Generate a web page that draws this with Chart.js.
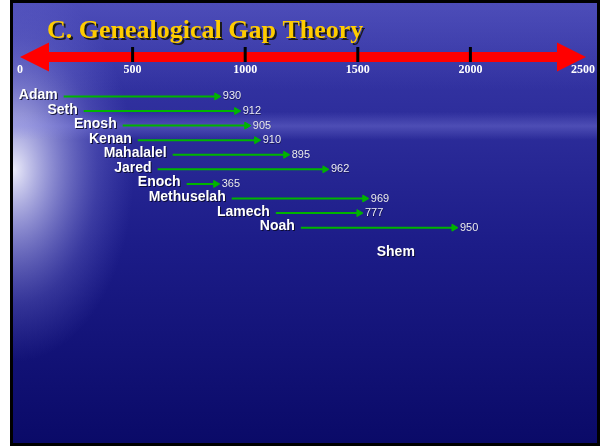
<!DOCTYPE html>
<html>
<head>
<meta charset="utf-8">
<script src="https://cdn.jsdelivr.net/npm/chart.js@4/dist/chart.umd.min.js"></script>
<style>
  html, body { margin: 0; padding: 0; background: #fff; }
  canvas { display: block; }
</style>
</head>
<body>
<canvas id="chart" width="602" height="447"></canvas>
<script>
const names = ['Adam', 'Seth', 'Enosh', 'Kenan', 'Mahalalel', 'Jared', 'Enoch', 'Methuselah', 'Lamech', 'Noah', 'Shem'];
const arrowStart = [194, 283, 456, 523, 678, 611, 740, 940, 1136, 1247, 1780];
const arrowEnd = [874, 962, 1007, 1051, 1180, 1354, 869, 1531, 1505, 1927, null];
const lifespans = [930, 912, 905, 910, 895, 962, 365, 969, 777, 950, null];
const rows = [0, 1, 2, 3, 4, 5, 6, 7, 8, 9, 10.75];
const axisTicks = [0, 500, 1000, 1500, 2000, 2500];
const titleText = 'C. Genealogical Gap Theory';

const green = '#00b400';

const datasets = names.map((name, i) => ({
    label: name,
    data: arrowEnd[i] == null ? [] : [
        { x: arrowStart[i], y: rows[i] },
        { x: arrowEnd[i], y: rows[i] }
    ],
    borderColor: green,
    backgroundColor: green,
    borderWidth: 2,
    pointRadius: [0, 4],
    pointStyle: 'triangle',
    pointRotation: 90,
    pointBorderWidth: 1,
    pointBackgroundColor: green,
    pointBorderColor: green
}));

const slideBackground = {
    id: 'slideBackground',
    beforeDraw(chart) {
        const ctx = chart.ctx;
        const W = chart.width, H = chart.height;
        ctx.save();
        ctx.fillStyle = '#ffffff';
        ctx.fillRect(0, 0, W, H);
        ctx.fillStyle = '#000000';
        ctx.fillRect(10, 0, 590, 446);

        const x0 = 13, y0 = 3, w = 584, h = 440;
        const g = ctx.createLinearGradient(0, y0, 0, y0 + h);
        g.addColorStop(0, '#3b3bab');
        g.addColorStop(0.25, '#2e2e9c');
        g.addColorStop(0.55, '#1c1c88');
        g.addColorStop(1, '#0a0a68');
        ctx.fillStyle = g;
        ctx.fillRect(x0, y0, w, h);

        ctx.beginPath();
        ctx.rect(x0, y0, w, h);
        ctx.clip();

        // whitish glow on the left edge
        ctx.save();
        ctx.translate(14, 170);
        ctx.scale(1, 1.6);
        const rg = ctx.createRadialGradient(0, 0, 0, 0, 0, 120);
        rg.addColorStop(0, 'rgba(245,245,255,0.95)');
        rg.addColorStop(0.3, 'rgba(200,200,245,0.65)');
        rg.addColorStop(0.7, 'rgba(140,140,225,0.25)');
        rg.addColorStop(1, 'rgba(120,120,220,0)');
        ctx.fillStyle = rg;
        ctx.fillRect(-130, -130, 260, 260);
        ctx.restore();

        // faint light band across the upper part
        const band = ctx.createLinearGradient(0, 112, 0, 140);
        band.addColorStop(0, 'rgba(140,140,230,0)');
        band.addColorStop(0.5, 'rgba(140,140,230,0.35)');
        band.addColorStop(1, 'rgba(140,140,230,0)');
        ctx.fillStyle = band;
        ctx.fillRect(x0, 112, w, 28);

        // lighter haze at the top
        const top = ctx.createLinearGradient(0, y0, 0, 90);
        top.addColorStop(0, 'rgba(110,110,210,0.35)');
        top.addColorStop(1, 'rgba(110,110,210,0)');
        ctx.fillStyle = top;
        ctx.fillRect(x0, y0, w, 90);
        ctx.restore();
    }
};

const timelineAxis = {
    id: 'timelineAxis',
    beforeDatasetsDraw(chart) {
        const ctx = chart.ctx;
        const xs = chart.scales.x;
        const yc = xs.top - 3;
        const left = xs.getPixelForValue(axisTicks[0]);
        const right = xs.getPixelForValue(axisTicks[axisTicks.length - 1]) + 3;
        const head = 29, halfHead = 14.5, halfBar = 5;
        ctx.save();
        ctx.fillStyle = '#ff0000';
        ctx.beginPath();
        ctx.moveTo(left, yc);
        ctx.lineTo(left + head, yc - halfHead);
        ctx.lineTo(left + head, yc - halfBar);
        ctx.lineTo(right - head, yc - halfBar);
        ctx.lineTo(right - head, yc - halfHead);
        ctx.lineTo(right, yc);
        ctx.lineTo(right - head, yc + halfHead);
        ctx.lineTo(right - head, yc + halfBar);
        ctx.lineTo(left + head, yc + halfBar);
        ctx.lineTo(left + head, yc + halfHead);
        ctx.closePath();
        ctx.fill();

        ctx.fillStyle = '#000000';
        axisTicks.slice(1, -1).forEach(v => {
            const px = xs.getPixelForValue(v);
            ctx.fillRect(px - 1.5, yc - 10, 3, 15);
        });

        // title
        ctx.font = 'bold 26px "Liberation Serif", "Times New Roman", serif';
        ctx.textBaseline = 'alphabetic';
        ctx.textAlign = 'left';
        ctx.fillStyle = '#1a1a1a';
        ctx.fillText(titleText, 49, 40);
        ctx.fillStyle = '#ffcc00';
        ctx.fillText(titleText, 47, 38);
        ctx.restore();
    }
};

const personLabels = {
    id: 'personLabels',
    afterDatasetsDraw(chart) {
        const ctx = chart.ctx;
        const xs = chart.scales.x, ys = chart.scales.y;
        ctx.save();
        ctx.textBaseline = 'alphabetic';
        names.forEach((name, i) => {
            const py = ys.getPixelForValue(rows[i]);
            const px = xs.getPixelForValue(arrowStart[i]);
            ctx.font = 'bold 14px "Liberation Sans", Arial, sans-serif';
            ctx.textAlign = 'right';
            ctx.fillStyle = 'rgba(10,10,40,0.9)';
            ctx.fillText(name, px - 5, py + 3.5);
            ctx.fillStyle = '#ffffff';
            ctx.fillText(name, px - 6, py + 2.5);
            if (lifespans[i] != null) {
                const ex = xs.getPixelForValue(arrowEnd[i]);
                ctx.font = '11px "Liberation Sans", Arial, sans-serif';
                ctx.textAlign = 'left';
                ctx.fillStyle = 'rgba(10,10,40,0.6)';
                ctx.fillText(String(lifespans[i]), ex + 6.5, py + 3.5);
                ctx.fillStyle = '#ececf6';
                ctx.fillText(String(lifespans[i]), ex + 6, py + 3);
            }
        });
        ctx.restore();
    }
};

new Chart(document.getElementById('chart'), {
    type: 'line',
    data: { datasets: datasets },
    options: {
        responsive: false,
        animation: false,
        events: [],
        layout: { padding: { top: 60, left: 20, right: 19, bottom: 0 } },
        plugins: {
            legend: { display: false },
            tooltip: { enabled: false },
            title: { display: false }
        },
        scales: {
            x: {
                type: 'linear',
                position: 'top',
                min: axisTicks[0],
                max: axisTicks[axisTicks.length - 1],
                afterBuildTicks: axis => { axis.ticks = axisTicks.map(v => ({ value: v })); },
                grid: { display: false, drawTicks: false },
                border: { display: false },
                ticks: {
                    color: '#ffffff',
                    padding: 3,
                    maxRotation: 0,
                    callback: v => String(v),
                    font: { family: '"Liberation Serif", "Times New Roman", serif', size: 12, weight: 'bold' }
                }
            },
            y: {
                type: 'linear',
                reverse: true,
                min: -1.1,
                max: 23.7,
                display: false
            }
        }
    },
    plugins: [slideBackground, timelineAxis, personLabels]
});
</script>
</body>
</html>
